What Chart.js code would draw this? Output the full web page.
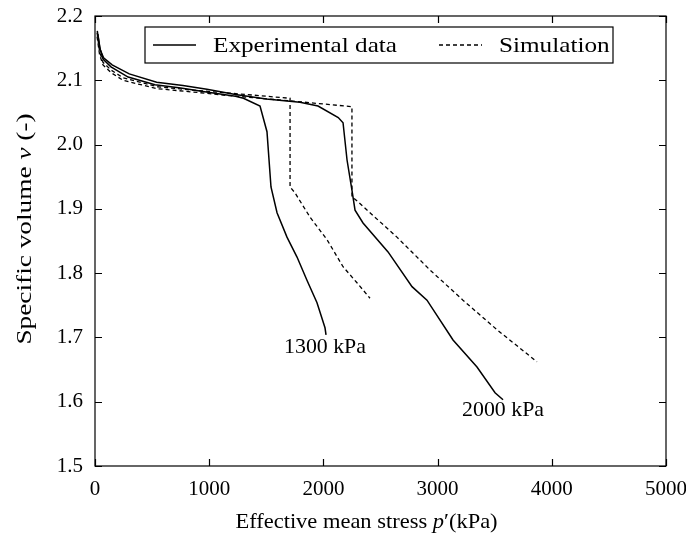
<!DOCTYPE html>
<html>
<head>
<meta charset="utf-8">
<script src="https://cdn.jsdelivr.net/npm/chart.js@4.4.1/dist/chart.umd.min.js"></script>
<style>
  html, body { margin: 0; padding: 0; background: #ffffff; }
  #c { display: block; }
</style>
</head>
<body>
<canvas id="c" width="686" height="543"></canvas>
<script>
// ---------------- data ----------------
const exp1300P = [20, 40, 70, 140, 290, 525, 750, 960, 1230, 1300, 1445, 1506, 1541, 1594, 1681, 1769, 1856, 1944, 2014, 2023];
const exp1300V = [2.177, 2.152, 2.133, 2.121, 2.105, 2.093, 2.088, 2.082, 2.075, 2.072, 2.060, 2.020, 1.934, 1.894, 1.856, 1.825, 1.789, 1.754, 1.715, 1.704];

const exp2000P = [25, 45, 75, 150, 300, 540, 770, 980, 1230, 1500, 1795, 1953, 2130, 2172, 2207, 2250, 2277, 2347, 2566, 2776, 2907, 3135, 3345, 3503, 3573];
const exp2000V = [2.172, 2.148, 2.135, 2.124, 2.110, 2.097, 2.092, 2.086, 2.078, 2.071, 2.066, 2.060, 2.042, 2.034, 1.976, 1.929, 1.898, 1.878, 1.833, 1.779, 1.758, 1.696, 1.654, 1.614, 1.603];

const sim1300P = [18, 40, 70, 140, 245, 543, 900, 1182, 1708, 1708, 1751, 1883, 2032, 2172, 2294, 2408];
const sim1300V = [2.174, 2.145, 2.128, 2.116, 2.104, 2.090, 2.084, 2.080, 2.072, 1.934, 1.925, 1.887, 1.852, 1.810, 1.785, 1.761];

const sim2000P = [18, 40, 70, 140, 245, 543, 900, 1182, 1708, 2250, 2250, 2303, 2408, 2644, 2933, 3222, 3520, 3870];
const sim2000V = [2.168, 2.140, 2.124, 2.112, 2.100, 2.087, 2.081, 2.076, 2.068, 2.059, 1.919, 1.911, 1.894, 1.856, 1.805, 1.758, 1.712, 1.662];

const xTickValues = [0, 1000, 2000, 3000, 4000, 5000];
const yTickValues = [1.5, 1.6, 1.7, 1.8, 1.9, 2.0, 2.1, 2.2];
const yTickLabels = ['1.5', '1.6', '1.7', '1.8', '1.9', '2.0', '2.1', '2.2'];

const seriesLabels = ['Experimental data', 'Simulation'];
const curveLabels = ['1300 kPa', '2000 kPa'];
const curveLabelP = [2014, 3573];
const curveLabelV = [1.684, 1.586];

// ---------------- helpers ----------------
const FONT = "'Liberation Serif', 'Times New Roman', serif";
const FS = 21;
function pts(px, py) { return px.map((p, i) => ({ x: p, y: py[i] })); }

// draws text (possibly with italic segments), stretched horizontally by sx
function drawRich(ctx, segs, x, y, align, sx) {
  let total = 0;
  segs.forEach(s => {
    ctx.font = (s.i ? 'italic ' : '') + FS + 'px ' + FONT;
    s.w = ctx.measureText(s.t).width;
    total += s.w;
  });
  ctx.save();
  ctx.translate(x, y);
  ctx.scale(sx, 1);
  let cx = align === 'center' ? -total / 2 : 0;
  ctx.textAlign = 'left';
  segs.forEach(s => {
    ctx.font = (s.i ? 'italic ' : '') + FS + 'px ' + FONT;
    ctx.fillText(s.t, cx, 0);
    cx += s.w;
  });
  ctx.restore();
}

const framePlugin = {
  id: 'frame',
  afterDraw(chart) {
    const ctx = chart.ctx;
    const a = chart.chartArea;
    const xs = chart.scales.x, ys = chart.scales.y;
    ctx.save();
    ctx.strokeStyle = '#000';
    ctx.lineWidth = 1.2;
    ctx.strokeRect(a.left, a.top, a.right - a.left, a.bottom - a.top);
    const tl = 7;
    ctx.beginPath();
    xTickValues.forEach(v => {
      const px = Math.round(xs.getPixelForValue(v)) + 0.5;
      ctx.moveTo(px, a.bottom); ctx.lineTo(px, a.bottom - tl);
      ctx.moveTo(px, a.top); ctx.lineTo(px, a.top + tl);
    });
    yTickValues.forEach(v => {
      const py = Math.round(ys.getPixelForValue(v)) + 0.5;
      ctx.moveTo(a.left, py); ctx.lineTo(a.left + tl, py);
      ctx.moveTo(a.right, py); ctx.lineTo(a.right - tl, py);
    });
    ctx.stroke();

    // curve labels
    ctx.fillStyle = '#000';
    ctx.textBaseline = 'middle';
    curveLabels.forEach((t, i) => {
      drawRich(ctx, [{ t: t }], xs.getPixelForValue(curveLabelP[i]), ys.getPixelForValue(curveLabelV[i]), 'center', 1.04);
    });

    // legend box
    const bx = a.left + 50, by = a.top + 11, bw = 468, bh = 36;
    ctx.fillStyle = '#fff';
    ctx.fillRect(bx, by, bw, bh);
    ctx.lineWidth = 1.2;
    ctx.strokeRect(bx, by, bw, bh);
    const ly = by + bh / 2;
    ctx.lineWidth = 1.5;
    ctx.setLineDash([]);
    ctx.beginPath(); ctx.moveTo(bx + 8, ly); ctx.lineTo(bx + 51, ly); ctx.stroke();
    ctx.setLineDash([4, 3]);
    ctx.lineWidth = 1.3;
    ctx.beginPath(); ctx.moveTo(bx + 294, ly); ctx.lineTo(bx + 337, ly); ctx.stroke();
    ctx.setLineDash([]);
    ctx.fillStyle = '#000';
    ctx.textBaseline = 'middle';
    drawRich(ctx, [{ t: seriesLabels[0] }], bx + 68, ly + 1, 'left', 1.2);
    drawRich(ctx, [{ t: seriesLabels[1] }], bx + 354, ly + 1, 'left', 1.2);

    // axis titles
    ctx.textBaseline = 'middle';
    drawRich(ctx, [{ t: 'Effective mean stress ' }, { t: 'p', i: true }, { t: '\u2032(kPa)' }],
      (a.left + a.right) / 2 - 14, 522, 'center', 1.07);
    ctx.save();
    ctx.translate(25, a.top + 213);
    ctx.rotate(-Math.PI / 2);
    drawRich(ctx, [{ t: 'Specific volume ' }, { t: 'v', i: true }, { t: ' (-)' }], 0, 0, 'center', 1.3);
    ctx.restore();
    ctx.restore();
  }
};

const solid = { borderColor: '#000', borderWidth: 1.5, pointRadius: 0, showLine: true, fill: false, tension: 0 };
const dashed = { borderColor: '#000', borderWidth: 1.3, borderDash: [4, 3], pointRadius: 0, showLine: true, fill: false, tension: 0 };

new Chart(document.getElementById('c'), {
  type: 'scatter',
  data: {
    datasets: [
      Object.assign({ label: seriesLabels[0], data: pts(exp1300P, exp1300V) }, solid),
      Object.assign({ label: seriesLabels[0] + ' 2000', data: pts(exp2000P, exp2000V) }, solid),
      Object.assign({ label: seriesLabels[1], data: pts(sim1300P, sim1300V) }, dashed),
      Object.assign({ label: seriesLabels[1] + ' 2000', data: pts(sim2000P, sim2000V) }, dashed)
    ]
  },
  options: {
    responsive: false,
    animation: false,
    devicePixelRatio: 1,
    layout: { padding: { top: 16, right: 20, left: 0, bottom: 0 } },
    plugins: { legend: { display: false }, tooltip: { enabled: false }, title: { display: false } },
    scales: {
      x: {
        type: 'linear', min: 0, max: 5000,
        afterBuildTicks: s => { s.ticks = xTickValues.map(v => ({ value: v })); },
        afterFit: s => { s.height = 77; s.paddingLeft = 0; s.paddingRight = 0; },
        grid: { display: false, drawTicks: false },
        border: { display: false },
        ticks: { color: '#000', font: { family: FONT, size: FS }, padding: 11, maxRotation: 0,
                 callback: v => String(v) }
      },
      y: {
        type: 'linear', min: 1.5, max: 2.2,
        afterBuildTicks: s => { s.ticks = yTickValues.map(v => ({ value: v })); },
        afterFit: s => { s.width = 95; s.paddingTop = 0; s.paddingBottom = 0; },
        grid: { display: false, drawTicks: false },
        border: { display: false },
        ticks: { color: '#000', font: { family: FONT, size: FS }, padding: 12,
                 callback: (v) => { const i = yTickValues.findIndex(t => Math.abs(t - v) < 1e-9); return i >= 0 ? yTickLabels[i] : ''; } }
      }
    }
  },
  plugins: [framePlugin]
});
</script>
</body>
</html>
